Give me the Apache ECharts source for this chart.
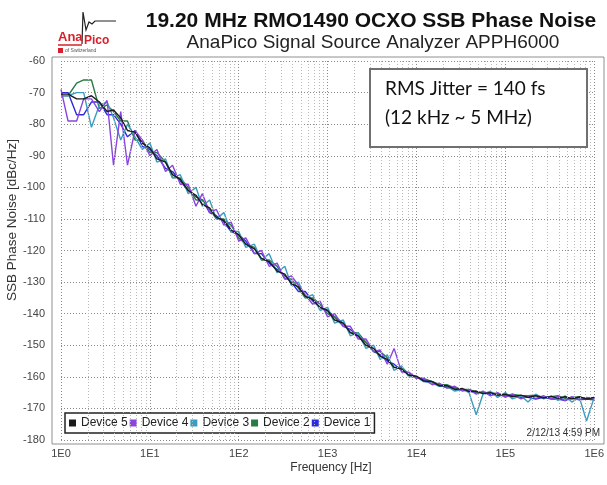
<!DOCTYPE html>
<html>
<head>
<meta charset="utf-8">
<script src="https://cdn.jsdelivr.net/npm/echarts@6/dist/echarts.min.js"></script>
<style>html,body{margin:0;padding:0;background:#fff}#c{width:607px;height:485px}</style>
</head>
<body>
<div id="c"></div>
<script>
const titleText = '19.20 MHz RMO1490 OCXO SSB Phase Noise';
const subtitleText = 'AnaPico Signal Source Analyzer APPH6000';
const xAxisName = 'Frequency [Hz]';
const yAxisName = 'SSB Phase Noise [dBc/Hz]';
const jitterLines = ['RMS Jitter = 140 fs', '(12 kHz ~ 5 MHz)'];
const timestamp = '2/12/13 4:59 PM';
const legendNames = ['Device 5', 'Device 4', 'Device 3', 'Device 2', 'Device 1'];

const freqs = [1,1.2,1.5,1.8,2.2,2.7,3.3,3.9,4.7,5.6,6.8,8.2,
  10,12,15,18,22,27,33,39,47,56,68,82,
  100,120,150,180,220,270,330,390,470,560,680,820,
  1000,1200,1500,1800,2200,2700,3300,3900,4700,5600,6800,8200,
  10000,12000,15000,18000,22000,27000,33000,39000,47000,56000,68000,82000,
  100000,120000,150000,180000,220000,270000,330000,390000,470000,560000,680000,820000,1000000];

const device5 = [-70.5,-70.5,-72,-72,-71,-73,-76,-75.5,-78,-82,-82.5,-86,
  -87.5,-91,-92,-96,-97.5,-101,-102.5,-105.5,-106.5,-109.5,-110.5,-113.5,
  -115,-118,-119.5,-122.5,-123.5,-126.5,-127.5,-130.5,-131.5,-134.5,-135.5,-138,
  -139,-142,-143,-146,-147,-150,-151,-153.5,-154.5,-157,-157.5,-159.5,
  -159.8,-161.3,-161.5,-162.8,-162.8,-164,-163.7,-164.7,-164.5,-165.3,-165,-165.8,
  -165.5,-166.3,-165.8,-166.5,-166,-166.7,-166.2,-166.8,-166.3,-167,-166.4,-167,-166.5];
const device4 = [-69,-79,-79,-72,-72,-76,-72.5,-93,-76,-93,-82,-85,
  -90,-88,-95,-93,-99,-99,-106,-102,-108,-107,-112,-111,
  -117,-116,-121,-120,-125,-124,-129,-128,-131,-134,-137,-136,
  -141,-140,-144,-144,-148,-148,-152,-151.5,-156,-151,-158.5,-158.5,
  -160.5,-160.5,-162.5,-162,-163.5,-163,-164.5,-164,-165.5,-164.5,-166,-165,
  -166.5,-165.5,-167,-166,-166.8,-166,-167,-166.2,-167.5,-166.3,-167.2,-166.5,-167];
const device3 = [-71,-71,-70,-70,-81,-74,-73,-78,-85,-80,-84,-88,
  -86,-92,-91,-97,-96,-102,-100,-106,-104,-110,-108,-114,
  -114,-119,-118,-123,-121,-127,-125,-131,-130,-135,-134,-139,
  -138,-143,-142,-147,-146,-151,-150,-154.5,-153,-158,-156.5,-160,
  -160,-161.5,-162,-163,-163,-164.5,-164,-165,-172,-165.5,-164.5,-166.5,
  -165,-167,-166,-168,-165.5,-167,-166,-167.5,-166,-168,-166.5,-174,-166.5];
const device2 = [-71,-71,-67,-66,-66,-75,-74,-76,-79,-79,-85,-85,
  -89,-89,-92,-97,-97,-100,-104,-104,-107,-110,-110,-112,
  -116,-118,-119,-123,-123,-125,-129,-129,-132,-135,-135,-137,
  -140,-141,-143,-146,-146,-149,-152,-152,-154,-157,-157,-159,
  -160.5,-160.5,-161.5,-162.5,-162.5,-163.5,-164,-164,-164.8,-165,-165,-165.3,
  -166,-165.5,-166,-166,-165.8,-166.5,-166.3,-166,-166.8,-166.5,-166.3,-167,-166.5];
const device1 = [-70,-70,-77,-77,-73,-73,-77,-77,-80,-84,-82,-87,
  -88,-90,-94,-95,-98,-101,-103,-104,-108,-109,-111,-114,
  -115,-117,-121,-121,-124,-126,-128,-130,-133,-133,-136,-138,
  -139,-141,-144,-145,-147,-149,-152,-153,-155,-156,-158,-159,
  -160,-161,-161.5,-162.5,-163.5,-163.5,-164,-164.5,-165,-165,-165.5,-165.8,
  -166,-166,-166.5,-166.5,-167,-166.5,-167,-167,-167.5,-166.8,-167.3,-167,-167.3];

const minorGrid = [];
[1,10,100,1000,10000,100000].forEach(d => [2,3,4,5,6,7,8,9].forEach(m => minorGrid.push(d*m)));

const colors = {
  'Device 1': '#2b2bdc',
  'Device 2': '#2a7a45',
  'Device 3': '#3a9cc0',
  'Device 4': '#8a44e0',
  'Device 5': '#1a1a1a'
};
const seriesData = [
  ['Device 1', device1], ['Device 2', device2], ['Device 3', device3],
  ['Device 4', device4], ['Device 5', device5]
];

const chart = echarts.init(document.getElementById('c'), null, {renderer: 'canvas'});
const series = [{
  name: 'minor', type: 'line', data: [], z: 1, silent: true,
  markLine: {
    silent: true, symbol: ['none', 'none'], label: {show: false}, animation: false,
    lineStyle: {type: [1, 2], color: '#b8b8b8', width: 1},
    data: minorGrid.map(v => ({xAxis: v}))
  }
}];
seriesData.forEach(([name, vals]) => {
  series.push({
    name, type: 'line', showSymbol: false, symbol: 'none', z: 3,
    lineStyle: {width: 1.4, color: colors[name]}, itemStyle: {color: colors[name]},
    data: vals.map((v, i) => [freqs[i], v]), animation: false
  });
});

const font = 'Liberation Sans, Arial, sans-serif';
chart.setOption({
  animation: false,
  backgroundColor: '#fff',
  textStyle: {fontFamily: font},
  grid: {left: 61, right: 6, top: 61, bottom: 45, containLabel: false},
  xAxis: {
    type: 'log', logBase: 10, min: 1, max: 1000000,
    axisLine: {show: false}, axisTick: {show: false},
    axisLabel: {margin: 8, fontSize: 11, color: '#444', formatter: v => '1E' + Math.round(Math.log10(v))},
    splitLine: {show: true, lineStyle: {type: [1, 2], color: '#8a8a8a', width: 1}}
  },
  yAxis: {
    type: 'value', min: -180, max: -60, interval: 10,
    axisLine: {show: false}, axisTick: {show: false},
    axisLabel: {margin: 16, fontSize: 11, color: '#444'},
    splitLine: {show: true, lineStyle: {type: [1, 2], color: '#8a8a8a', width: 1}}
  },
  legend: {
    data: legendNames, left: 65, top: 413, orient: 'horizontal',
    icon: 'rect', itemWidth: 7, itemHeight: 7, itemGap: 2,
    padding: [4, 4], borderColor: '#222', borderWidth: 1.5, backgroundColor: '#fff',
    textStyle: {fontSize: 12, color: '#222', fontFamily: font}
  },
  series,
  graphic: [
    {type: 'rect', silent: true, z: 0, shape: {x: 52, y: 57, width: 552, height: 387},
      style: {fill: 'none', stroke: '#909090', lineWidth: 1}},
    {type: 'text', z: 10, style: {text: titleText, x: 371, y: 21, textAlign: 'center', textVerticalAlign: 'middle',
      font: 'bold 21px ' + font, fill: '#111'}},
    {type: 'text', z: 10, style: {text: subtitleText, x: 373, y: 43, textAlign: 'center', textVerticalAlign: 'middle',
      font: '19px ' + font, fill: '#222'}},
    {type: 'text', z: 10, rotation: Math.PI / 2, x: 12, y: 220,
      style: {text: yAxisName, x: 0, y: 0, textAlign: 'center', textVerticalAlign: 'middle', font: '13.5px ' + font, fill: '#333'}},
    {type: 'text', z: 10, style: {text: xAxisName, x: 331, y: 468, textAlign: 'center', textVerticalAlign: 'middle',
      font: '12px ' + font, fill: '#333'}},
    {type: 'text', z: 10, style: {text: timestamp, x: 600, y: 433, textAlign: 'right', textVerticalAlign: 'middle',
      font: '10px ' + font, fill: '#333'}},
    {type: 'rect', z: 10, shape: {x: 370, y: 69, width: 217, height: 78},
      style: {fill: '#fff', stroke: '#707070', lineWidth: 2}},
    {type: 'text', z: 11, style: {text: jitterLines[0], x: 385, y: 89, textAlign: 'left', textVerticalAlign: 'middle',
      font: '19px Lato, sans-serif', fill: '#111'}},
    {type: 'text', z: 11, style: {text: jitterLines[1], x: 385, y: 118, textAlign: 'left', textVerticalAlign: 'middle',
      font: '19px Lato, sans-serif', fill: '#111'}},
    // logo
    {type: 'polyline', z: 10, shape: {points: [[82, 44], [83, 12], [86, 30], [89, 22], [92, 24], [95, 21], [116, 21]]},
      style: {stroke: '#222', fill: 'none', lineWidth: 1.2}},
    {type: 'text', z: 10, style: {text: 'Ana', x: 58, y: 37, textAlign: 'left', textVerticalAlign: 'middle',
      font: 'bold 13px ' + font, fill: '#d8202a'}},
    {type: 'line', z: 10, shape: {x1: 58, y1: 45, x2: 82, y2: 45}, style: {stroke: '#d8202a', lineWidth: 1.5}},
    {type: 'text', z: 10, style: {text: 'Pico', x: 84, y: 41, textAlign: 'left', textVerticalAlign: 'middle',
      font: 'bold 12px ' + font, fill: '#d8202a'}},
    {type: 'rect', z: 10, shape: {x: 58, y: 48, width: 5, height: 5}, style: {fill: '#d8202a'}},
    {type: 'text', z: 10, style: {text: 'of Switzerland', x: 65, y: 51, textAlign: 'left', textVerticalAlign: 'middle',
      font: '5px ' + font, fill: '#555'}}
  ]
});
</script>
</body>
</html>
